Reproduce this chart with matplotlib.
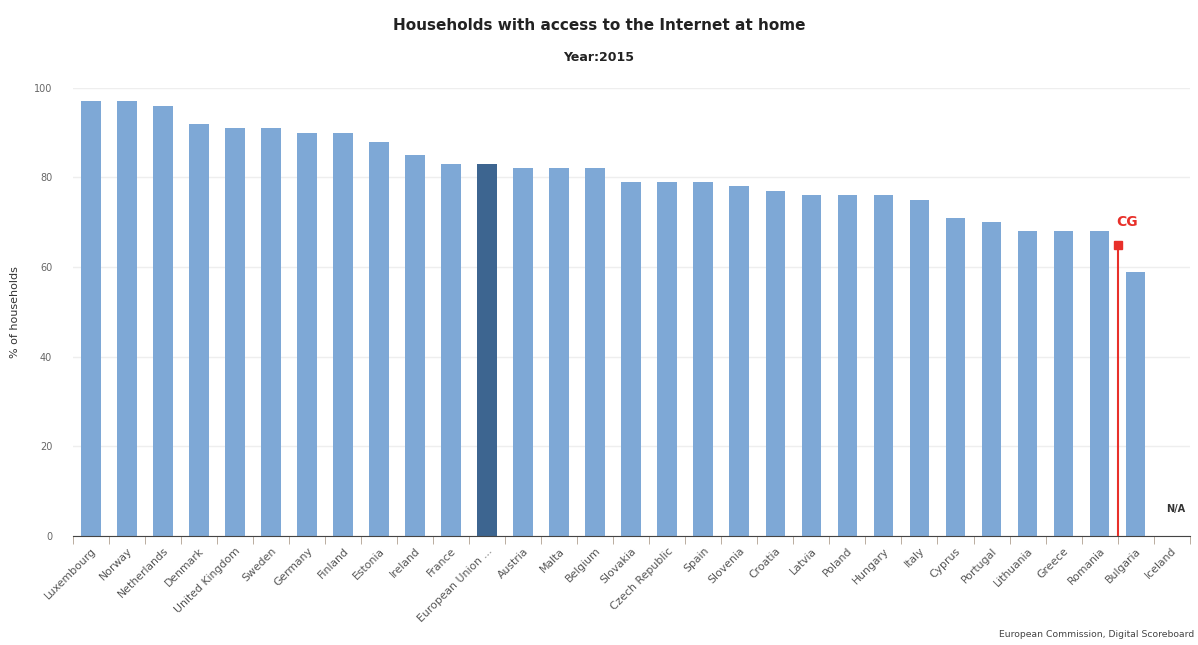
import numpy as np
import matplotlib
matplotlib.use("Agg")
import matplotlib.pyplot as plt

countries = ["Luxembourg", "Norway", "Netherlands", "Denmark", "United Kingdom", "Sweden",
             "Germany", "Finland", "Estonia", "Ireland", "France", "European Union ...",
             "Austria", "Malta", "Belgium", "Slovakia", "Czech Republic", "Spain", "Slovenia",
             "Croatia", "Latvia", "Poland", "Hungary", "Italy", "Cyprus", "Portugal",
             "Lithuania", "Greece", "Romania", "Bulgaria", "Iceland"]
values = [97, 97, 96, 92, 91, 91, 90, 90, 88, 85, 83, 83, 82, 82, 82, 79, 79, 79, 78,
          77, 76, 76, 76, 75, 71, 70, 68, 68, 68, 59, np.nan]
cg_label = "CG"
cg_value = 65

bar_color = "#7ea8d6"
eu_color = "#3d6590"

fig = plt.figure(figsize=(11.98, 6.45), dpi=100)
ax = fig.add_axes([0.061, 0.169, 0.932, 0.695])

x = np.arange(len(countries))
colors = [eu_color if c.startswith("European Union") else bar_color for c in countries]
vals = np.array(values, dtype=float)
ax.bar(x, np.nan_to_num(vals), width=0.55, color=colors, zorder=2)

for i, v in enumerate(vals):
    if np.isnan(v):
        ax.text(i + 0.1, 6, "N/A", ha="center", va="center", fontsize=7, fontweight="bold", color="#333333")

# CG marker placed after last country with value >= cg_value
pos = max(i for i, v in enumerate(vals) if not np.isnan(v) and v >= cg_value) + 0.5
ax.plot([pos, pos], [0, cg_value], color="#e8302a", lw=1.5, zorder=3)
ax.plot(pos, cg_value, marker="s", color="#e8302a", markersize=6, zorder=4)
ax.text(pos + 0.25, cg_value + 3.5, cg_label, color="#e8302a", fontsize=10, fontweight="bold",
        ha="center", va="bottom")

ax.set_xlim(-0.5, len(countries) - 0.5)
ax.set_ylim(0, 100)
ax.set_yticks([0, 20, 40, 60, 80, 100])
ax.yaxis.grid(True, color="#eeeeee", lw=1)
ax.set_axisbelow(True)
for s in ["top", "right", "left"]:
    ax.spines[s].set_visible(False)
ax.spines["bottom"].set_color("#444444")

ax.set_xticks(x)
ax.set_xticklabels(countries, rotation=45, ha="right", rotation_mode="anchor",
                   fontsize=7.8, color="#555555")
ax.tick_params(axis="x", length=0, pad=7)
ax.set_xticks(np.arange(len(countries) + 1) - 0.5, minor=True)
ax.tick_params(axis="x", which="minor", length=6, color="#b0a090")
ax.tick_params(axis="y", length=0, labelsize=7, labelcolor="#666666", pad=15)
ax.set_ylabel("% of households", fontsize=8, color="#333333", labelpad=10)

fig.text(0.5, 0.953, "Households with access to the Internet at home", ha="center",
         fontsize=11, color="#222222", fontweight="bold")
fig.text(0.5, 0.906, "Year:2015", ha="center", fontsize=9, color="#222222", fontweight="bold")
fig.text(0.997, 0.012, "European Commission, Digital Scoreboard", ha="right",
         fontsize=6.7, color="#444444")

fig.savefig("out.png", dpi=100)
